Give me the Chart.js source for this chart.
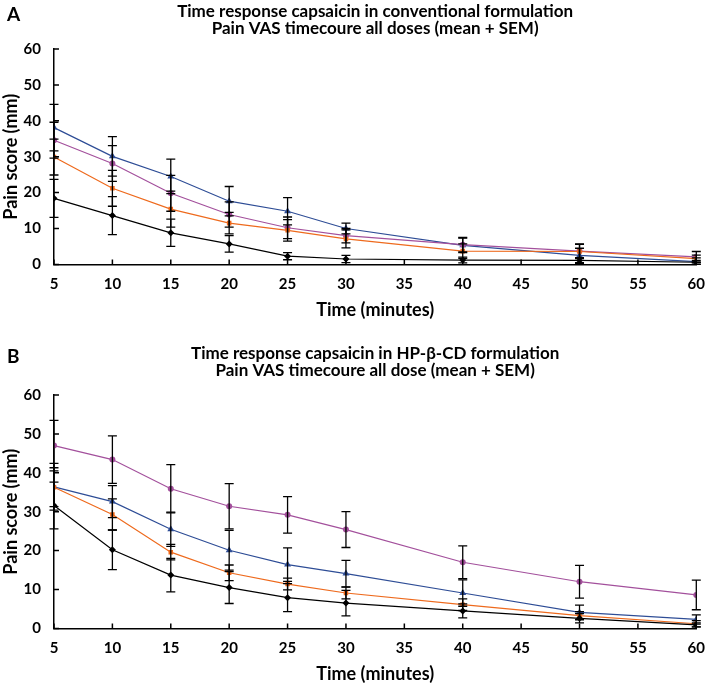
<!DOCTYPE html>
<html>
<head>
<meta charset="utf-8">
<script src="https://cdn.jsdelivr.net/npm/chart.js@4"></script>
<style>
    html, body { margin: 0; background: #fff; width: 705px; height: 683px; overflow: hidden; }
    body { position: relative; }
    .panel { position: absolute; left: 0; width: 707px; }
    .tag { position: absolute; left: 7px; font: bold 19px Lato, sans-serif; color: #000; }
</style>
</head>
<body>
<div class="panel" style="top:0; height:321px;"><canvas id="chartA"></canvas></div>
<div class="panel" style="top:342px; height:343px;"><canvas id="chartB"></canvas></div>
<div class="tag" style="top:2px;">A</div>
<div class="tag" style="top:344px;">B</div>
<script>
// time points (minutes)
const times = [5, 10, 15, 20, 25, 30, 40, 50, 60];

// panel A - conventional formulation (mean, SEM)
const aBlue = [38.1, 30.1, 24.5, 17.6, 14.8, 10.0, 5.3, 2.5, 0.8];
const aBlueSem = [6.5, 5.5, 4.8, 4.1, 3.8, 1.5, 2.0, 2.0, 1.0];
const aPurple = [34.6, 28.1, 19.8, 13.9, 10.2, 8.0, 5.5, 3.7, 2.1];
const aPurpleSem = [5.0, 5.0, 5.0, 3.5, 3.0, 2.0, 2.0, 2.0, 1.5];
const aOrange = [29.9, 21.2, 15.4, 11.5, 9.5, 7.1, 3.7, 3.6, 1.6];
const aOrangeSem = [5.0, 5.0, 5.0, 3.0, 3.0, 2.5, 2.0, 2.0, 1.0];
const aBlack = [18.4, 13.6, 8.8, 5.7, 2.3, 1.5, 1.2, 1.1, 0.6];
const aBlackSem = [5.3, 5.3, 3.8, 2.3, 1.0, 1.0, 0.8, 0.8, 0.5];

// panel B - HP-beta-CD formulation (mean, SEM)
const bPurple = [47.0, 43.4, 35.9, 31.4, 29.2, 25.4, 17.0, 12.0, 8.6];
const bPurpleSem = [6.5, 6.1, 6.2, 5.8, 4.7, 4.6, 4.2, 4.2, 3.8];
const bBlue = [36.4, 32.6, 25.5, 20.1, 16.4, 14.1, 9.1, 4.1, 2.3];
const bBlueSem = [6.0, 4.1, 4.4, 5.1, 4.3, 3.4, 3.4, 1.9, 1.2];
const bOrange = [36.3, 29.3, 19.6, 14.3, 11.4, 9.1, 6.1, 3.3, 1.2];
const bOrangeSem = [5.0, 4.0, 2.0, 2.0, 1.5, 1.5, 1.5, 1.0, 0.8];
const bBlack = [31.6, 20.2, 13.7, 10.5, 7.9, 6.5, 4.5, 2.6, 0.9];
const bBlackSem = [6.0, 5.1, 4.3, 4.1, 3.6, 3.3, 1.8, 1.2, 0.5];

const yTicks = [0, 10, 20, 30, 40, 50, 60];
const xTicks = [5, 10, 15, 20, 25, 30, 35, 40, 45, 50, 55, 60];

const BLUE = '#2e4d96';
const PURPLE = '#a3509c';
const ORANGE = '#ee6a1d';
const BLACK = '#000000';

function series(label, values, sem, color, shape, radius) {
    return {
        label: label,
        data: times.map((t, i) => ({ x: t, y: values[i] })),
        sem: sem,
        borderColor: color,
        backgroundColor: color,
        borderWidth: 1.2,
        pointStyle: shape,
        pointRadius: radius,
        pointBorderWidth: 0,
        tension: 0
    };
}

// SEM bars and inward tick marks, drawn through the chart's own scales
const errorBars = {
    id: 'errorBars',
    afterDatasetsDraw(chart) {
        const ctx = chart.ctx;
        const xs = chart.scales.x, ys = chart.scales.y;
        ctx.save();
        ctx.strokeStyle = '#000';
        ctx.lineWidth = 1.3;
        chart.data.datasets.forEach(ds => {
            ds.data.forEach((p, i) => {
                const px = xs.getPixelForValue(p.x);
                const top = ys.getPixelForValue(p.y + ds.sem[i]);
                const bot = ys.getPixelForValue(Math.max(0, p.y - ds.sem[i]));
                ctx.beginPath();
                ctx.moveTo(px, top); ctx.lineTo(px, bot);
                ctx.moveTo(px - 4.5, top); ctx.lineTo(px + 4.5, top);
                ctx.moveTo(px - 4.5, bot); ctx.lineTo(px + 4.5, bot);
                ctx.stroke();
            });
        });
        ctx.lineWidth = 1.5;
        const left = chart.chartArea.left, bottom = chart.chartArea.bottom;
        ctx.beginPath();
        yTicks.forEach(v => {
            const py = ys.getPixelForValue(v);
            ctx.moveTo(left, py); ctx.lineTo(left + 5, py);
        });
        xTicks.forEach(v => {
            const px = xs.getPixelForValue(v);
            ctx.moveTo(px, bottom); ctx.lineTo(px, bottom - 5);
        });
        ctx.stroke();
        ctx.restore();
    }
};

const FONT = 'Lato, sans-serif';

function makeChart(id, titleLines, titleGap, datasets) {
    return new Chart(document.getElementById(id), {
        type: 'line',
        data: { datasets: datasets },
        options: {
            responsive: true,
            maintainAspectRatio: false,
            animation: false,
            layout: { padding: { left: 0, right: 0, top: 3, bottom: 0 } },
            plugins: {
                legend: { display: false },
                tooltip: { enabled: false },
                title: {
                    display: true,
                    fullSize: false,
                    text: titleLines,
                    color: '#000',
                    font: { family: FONT, size: 17, weight: 'bold', lineHeight: 1.0 },
                    padding: { top: 0, bottom: titleGap }
                }
            },
            scales: {
                x: {
                    type: 'linear',
                    min: 5,
                    max: 60,
                    grid: { display: false, drawTicks: true, tickLength: 9 },
                    border: { display: true, color: '#000', width: 1.5 },
                    ticks: { stepSize: 5, color: '#000', padding: 2, font: { family: FONT, size: 15, weight: 'bold' } },
                    title: { display: true, text: 'Time (minutes)', color: '#000', padding: { top: 4, bottom: 0 }, font: { family: FONT, size: 18, weight: 'bold' } }
                },
                y: {
                    min: 0,
                    max: 60,
                    grid: { display: false, drawTicks: true, tickLength: 11 },
                    border: { display: true, color: '#000', width: 1.5 },
                    ticks: { stepSize: 10, color: '#000', padding: 2, font: { family: FONT, size: 15, weight: 'bold' } },
                    title: { display: true, text: 'Pain score (mm)', color: '#000', padding: { top: 0, bottom: 0 }, font: { family: FONT, size: 18, weight: 'bold' } }
                }
            }
        },
        plugins: [errorBars]
    });
}

makeChart('chartA',
    ['Time response capsaicin in conventional formulation', 'Pain VAS timecoure all doses (mean + SEM)'], 12,
    [
        series('Black', aBlack, aBlackSem, BLACK, 'rectRot', 3.5),
        series('Orange', aOrange, aOrangeSem, ORANGE, 'rect', 3.2),
        series('Purple', aPurple, aPurpleSem, PURPLE, 'circle', 3),
        series('Blue', aBlue, aBlueSem, BLUE, 'triangle', 4)
    ]);

makeChart('chartB',
    ['Time response capsaicin in HP-\u03b2-CD formulation', 'Pain VAS timecoure all dose (mean + SEM)'], 16,
    [
        series('Black', bBlack, bBlackSem, BLACK, 'rectRot', 3.5),
        series('Orange', bOrange, bOrangeSem, ORANGE, 'rect', 3.2),
        series('Blue', bBlue, bBlueSem, BLUE, 'triangle', 4),
        series('Purple', bPurple, bPurpleSem, PURPLE, 'circle', 3)
    ]);
</script>
</body>
</html>
